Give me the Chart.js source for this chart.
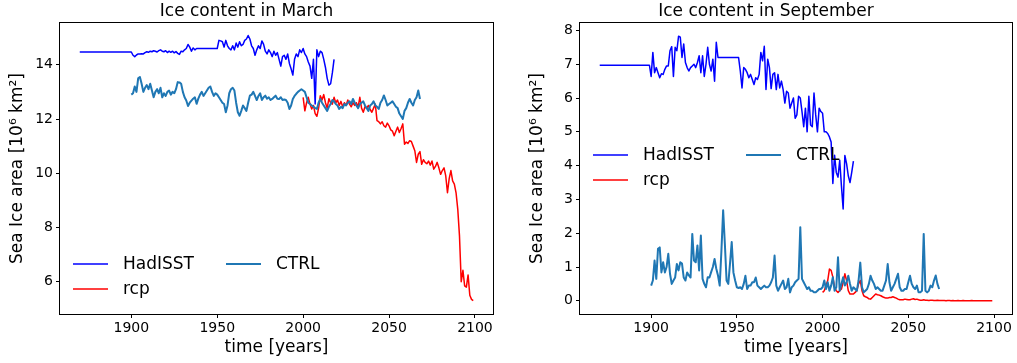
<!DOCTYPE html>
<html>
<head>
<meta charset="utf-8">
<script src="https://cdn.jsdelivr.net/npm/chart.js@4/dist/chart.umd.min.js"></script>
<style>
  html, body { margin: 0; padding: 0; background: #fff; }
  #wrap { position: relative; width: 1017px; height: 363px; }
  canvas { position: absolute; top: 0; }
  #march { left: 0; }
  #sept { left: 520px; }
</style>
</head>
<body>
<div id="wrap">
  <canvas id="march" width="500" height="363"></canvas>
  <canvas id="sept" width="497" height="363"></canvas>
</div>
<script>
/* Arctic sea ice area, March and September: HadISST obs, CTRL run, rcp scenario (annual values) */
const FONT = "'DejaVu Sans', sans-serif";

const hadStart = 1870, ctrlStart = 1900, rcpStart = 2000;
const xTicks = [1900, 1950, 2000, 2050, 2100];
const yTicksMar = [6, 8, 10, 12, 14];
const yTicksSep = [0, 1, 2, 3, 4, 5, 6, 7, 8];

const hadMar = [
  14.47, 14.47, 14.47, 14.47, 14.47, 14.47, 14.47, 14.47, 14.47, 14.47,
  14.47, 14.47, 14.47, 14.47, 14.47, 14.47, 14.47, 14.47, 14.47, 14.47,
  14.47, 14.47, 14.47, 14.47, 14.47, 14.47, 14.47, 14.47, 14.47, 14.47,
  14.47, 14.35, 14.30, 14.36, 14.40, 14.40, 14.41, 14.40, 14.45, 14.48,
  14.46, 14.50, 14.48, 14.52, 14.50, 14.47, 14.52, 14.55, 14.50, 14.48,
  14.52, 14.45, 14.50, 14.46, 14.50, 14.44, 14.49, 14.42, 14.38, 14.50,
  14.48, 14.55, 14.60, 14.75, 14.65, 14.50, 14.62, 14.55, 14.60, 14.60,
  14.60, 14.60, 14.60, 14.60, 14.60, 14.60, 14.60, 14.60, 14.60, 14.60,
  14.60, 14.90, 14.88, 14.85, 14.65, 14.90, 14.70, 14.60, 14.55, 14.70,
  14.55, 14.80, 14.65, 14.85, 14.70, 14.75, 14.90, 14.95, 15.08, 14.95,
  14.70, 14.60, 14.35, 14.55, 14.70, 14.60, 14.88, 14.75, 14.50, 14.40,
  14.55, 14.45, 14.30, 14.50, 14.35, 14.45, 14.20, 13.95, 14.30, 14.35,
  14.20, 14.40, 14.05, 13.85, 13.62, 14.20, 14.40, 14.30, 14.55, 14.45,
  14.60, 14.40, 14.30, 14.10, 13.95, 13.50, 14.20, 12.55, 14.55, 14.30,
  14.50, 14.45, 14.20, 13.90, 13.50, 13.25, 13.30, 13.70, 14.20
];
const ctrlMar = [
  12.90, 12.95, 13.20, 13.00, 13.50, 13.55, 13.30, 13.00, 13.15, 13.25,
  13.10, 13.30, 13.05, 12.80, 13.00, 13.10, 12.95, 13.15, 12.80, 12.95,
  12.85, 13.00, 13.05, 12.90, 13.00, 12.95, 13.10, 13.36, 13.35, 13.30,
  13.00, 12.80, 12.68, 12.48, 12.60, 12.68, 12.75, 12.80, 12.56, 12.75,
  12.90, 13.00, 12.85, 12.95, 13.05, 13.15, 13.20, 13.00, 12.85, 12.95,
  12.90, 12.80, 12.70, 12.60, 12.55, 12.25, 12.50, 12.95, 13.10, 13.15,
  13.05, 12.60, 12.25, 12.12, 12.30, 12.50, 12.40, 12.30, 12.60, 12.86,
  12.90, 13.00, 12.85, 12.70, 12.85, 12.95, 12.70, 12.80, 12.86, 12.75,
  12.80, 12.70, 12.74, 12.80, 12.86, 12.75, 12.74, 12.80, 12.70, 12.72,
  12.70, 12.60, 12.37, 12.50, 12.74, 12.85, 12.93, 13.00, 13.05, 13.10,
  13.05, 13.00, 12.80, 12.60, 12.55, 12.50, 12.45, 12.40, 12.37, 12.60,
  12.74, 12.60, 12.50, 12.40, 12.30, 12.45, 12.55, 12.70, 12.65, 12.55,
  12.50, 12.37, 12.45, 12.40, 12.55, 12.50, 12.60, 12.65, 12.55, 12.74,
  12.60, 12.50, 12.40, 12.55, 12.60, 12.65, 12.50, 12.40, 12.30, 12.50,
  12.55, 12.65, 12.50, 12.45, 12.37, 12.60, 12.70, 12.87, 12.70, 12.50,
  12.55, 12.60, 12.65, 12.55, 12.45, 12.40, 12.20, 12.10, 12.00, 12.30,
  12.40, 12.60, 12.74, 12.60, 12.50, 12.70, 12.80, 13.05, 12.74
];
const rcpMar = [
  12.80, 12.30, 12.60, 12.80, 12.55, 12.37, 12.50, 12.20, 12.10, 12.40,
  12.86, 12.70, 12.90, 12.60, 12.40, 12.75, 12.60, 12.55, 12.80, 12.60,
  12.70, 12.50, 12.65, 12.45, 12.60, 12.50, 12.70, 12.55, 12.45, 12.60,
  12.50, 12.60, 12.45, 12.80, 12.40, 12.25, 12.45, 12.40, 12.50, 12.35,
  12.25, 12.40, 12.55, 11.94, 11.90, 11.82, 11.90, 11.75, 11.70, 11.85,
  11.75, 11.60, 11.55, 11.38, 11.55, 11.70, 11.50, 11.65, 11.82, 11.07,
  11.15, 11.10, 11.20, 11.17, 11.00, 10.83, 10.40, 10.70, 10.80, 10.33,
  10.50, 10.40, 10.35, 10.45, 10.30, 10.45, 10.15, 10.25, 10.40, 10.20,
  9.96, 10.10, 10.20, 9.90, 9.28, 9.80, 10.10, 9.72, 9.60, 9.28,
  8.67, 7.68, 6.00, 6.42, 5.85, 5.80, 6.25, 5.50, 5.35, 5.30
];

const hadSep = [
  6.97, 6.97, 6.97, 6.97, 6.97, 6.97, 6.97, 6.97, 6.97, 6.97,
  6.97, 6.97, 6.97, 6.97, 6.97, 6.97, 6.97, 6.97, 6.97, 6.97,
  6.97, 6.97, 6.97, 6.97, 6.97, 6.97, 6.97, 6.97, 6.97, 6.97,
  6.64, 7.35, 6.75, 6.90, 6.75, 6.60, 6.72, 6.70, 6.85, 6.95,
  6.95, 7.40, 7.52, 6.64, 7.50, 7.40, 7.83, 7.80, 7.20, 7.60,
  7.05, 6.90, 6.80, 6.90, 6.95, 7.00, 6.90, 7.05, 7.25, 6.75,
  7.25, 6.64, 7.00, 7.50, 7.00, 6.80, 7.15, 6.50, 7.65, 7.20,
  7.20, 7.20, 7.20, 7.20, 7.20, 7.20, 7.20, 7.20, 7.20, 7.20,
  7.20, 7.20, 6.80, 6.30, 6.90, 6.85, 6.75, 6.60, 6.70, 6.55,
  6.40, 6.60, 6.55, 6.70, 7.35, 7.10, 7.53, 6.25, 7.15, 6.90,
  6.28, 6.70, 6.75, 6.25, 6.70, 6.30, 6.50, 6.25, 5.85, 6.20,
  6.15, 5.70, 5.85, 6.00, 5.40, 5.50, 6.05, 6.00, 5.60, 5.15,
  5.70, 5.00, 6.05, 5.20, 5.15, 6.15, 5.50, 5.00, 5.70, 5.60,
  5.55, 5.00, 5.00, 4.95, 4.85, 4.70, 3.47, 4.31, 3.80, 3.66,
  4.16, 3.40, 2.72, 4.30, 4.06, 3.70, 3.50, 3.80, 4.13
];
const ctrlSep = [
  0.45, 0.60, 1.19, 0.65, 1.54, 1.58, 0.84, 1.14, 0.84, 1.00,
  1.39, 0.80, 0.50, 0.60, 0.69, 1.09, 0.90, 1.14, 1.10, 0.69,
  0.60, 0.84, 0.75, 0.69, 1.98, 1.19, 1.14, 1.64, 0.90, 1.93,
  0.65, 0.50, 0.40, 0.70, 0.69, 0.85, 1.00, 1.24, 0.95, 0.75,
  0.45, 1.49, 2.68, 1.69, 0.60, 0.50, 1.10, 1.74, 0.84, 0.60,
  0.40, 0.38, 0.40, 0.35, 0.50, 0.74, 0.35, 0.45, 0.45, 0.55,
  0.55, 0.69, 0.45, 0.40, 0.35, 0.40, 0.45, 0.40, 0.40, 0.45,
  0.55, 0.69, 1.34, 0.45, 0.30, 0.40, 0.50, 0.60, 0.35, 0.40,
  0.65, 0.25, 0.40, 0.45, 0.55, 0.60, 0.65, 2.18, 0.65, 0.55,
  0.45, 0.35, 0.40, 0.30, 0.30, 0.25, 0.25, 0.30, 0.35, 0.35,
  0.40, 0.60, 0.35, 0.55, 0.30, 0.45, 0.70, 0.30, 0.40, 1.29,
  0.30, 0.50, 0.70, 0.45, 0.55, 0.74, 0.50, 0.30, 0.40, 0.35,
  0.30, 0.60, 1.13, 0.40, 0.25, 0.30, 0.35, 0.50, 0.74, 0.60,
  0.50, 0.35, 0.40, 0.35, 0.30, 0.30, 0.45, 0.60, 1.09, 0.55,
  0.30, 0.40, 0.50, 0.65, 0.80, 0.40, 0.30, 0.30, 0.35, 0.35,
  0.55, 0.74, 0.50, 0.40, 0.35, 0.45, 0.25, 0.25, 0.30, 1.98,
  0.30, 0.25, 0.30, 0.45, 0.40, 0.60, 0.75, 0.50, 0.35
];
const rcpSep = [
  0.25, 0.30, 0.45, 0.60, 0.94, 0.90, 0.70, 0.40, 0.30, 0.25,
  0.30, 0.35, 0.55, 0.80, 0.60, 0.30, 0.20, 0.20, 0.20, 0.25,
  0.30, 0.50, 0.60, 0.30, 0.15, 0.12, 0.10, 0.06, 0.05, 0.10,
  0.15, 0.20, 0.18, 0.17, 0.15, 0.12, 0.10, 0.08, 0.08, 0.10,
  0.10, 0.12, 0.10, 0.08, 0.05, 0.03, 0.03, 0.03, 0.05, 0.04,
  0.03, 0.03, 0.05, 0.06, 0.04, 0.05, 0.03, 0.02, 0.02, 0.03,
  0.02, 0.02, 0.01, 0.02, 0.02, 0.01, 0.01, 0.02, 0.01, 0.01,
  0.01, 0.01, 0.00, 0.01, 0.01, 0.00, 0.01, 0.00, 0.00, 0.01,
  0.00, 0.00, 0.01, 0.00, 0.00, 0.00, 0.00, 0.01, 0.00, 0.00,
  0.00, 0.00, 0.00, 0.00, 0.00, 0.00, 0.00, 0.00, 0.00, 0.00
];

const toXY = (start, arr) => arr.map((v, i) => ({ x: start + i, y: v }));

// matplotlib-ish frame on all four sides
const frame = {
  id: 'frame',
  afterDraw(chart) {
    const { ctx, chartArea: a } = chart;
    ctx.save();
    ctx.strokeStyle = '#000'; ctx.lineWidth = 1;
    ctx.strokeRect(Math.round(a.left) - 0.5, Math.round(a.top) - 0.5, Math.round(a.right - a.left) + 1, Math.round(a.bottom - a.top) + 1);
    ctx.restore();
  },
};

// legend drawn inside the axes, two columns, no box
const inLegend = {
  id: 'inLegend',
  afterDraw(chart, args, o) {
    const { ctx, chartArea: a } = chart;
    ctx.save();
    ctx.font = `17px ${FONT}`; ctx.textBaseline = 'middle'; ctx.fillStyle = '#000';
    o.items.forEach(([idx, col, row]) => {
      const ds = chart.data.datasets[idx];
      const x = a.left + o.x + col * o.colW, y = a.top + o.y + row * o.rowH;
      ctx.strokeStyle = ds.borderColor; ctx.lineWidth = ds.borderWidth;
      ctx.beginPath(); ctx.moveTo(x, y); ctx.lineTo(x + 35, y); ctx.stroke();
      ctx.fillText(ds.label, x + 50, y + 1);
    });
    ctx.restore();
  },
};

function iceChart(canvas, { title, had, ctrl, rcp, yMin, yMax, yTicks, legendY, padRight }) {
  const line = (label, data, color, width, order) => ({
    label, data, borderColor: color, backgroundColor: color, borderWidth: width,
    pointRadius: 0, tension: 0, borderJoinStyle: 'round', order,
  });
  return new Chart(canvas, {
    type: 'line',
    data: {
      datasets: [
        line('HadISST', had, '#0000ff', 1.5, 2),
        line('rcp', rcp, '#ff0000', 1.5, 1),
        line('CTRL', ctrl, '#1f77b4', 2, 0),
      ],
    },
    options: {
      responsive: false, animation: false, events: [],
      layout: { padding: { left: 0, right: padRight, top: 0, bottom: 0 } },
      plugins: {
        legend: { display: false }, tooltip: { enabled: false },
        title: { display: true, text: title, color: '#000', font: { family: FONT, size: 17, weight: 'normal' }, padding: { top: 1.5, bottom: 1.1 } },
        inLegend: { x: 13, y: legendY, colW: 153, rowH: 25, items: [[0, 0, 0], [2, 1, 0], [1, 0, 1]] },
      },
      scales: {
        x: {
          type: 'linear', min: 1858.5, max: 2110.5,
          afterBuildTicks: (s) => { s.ticks = xTicks.map((v) => ({ value: v })); },
          afterFit: (s) => { s.height = 49; },
          grid: { drawOnChartArea: false, drawTicks: true, tickLength: 4, color: '#000' },
          border: { display: false },
          ticks: { color: '#000', padding: 2, maxRotation: 0, font: { family: FONT, size: 14 }, callback: (v) => String(v) },
          title: { display: true, text: 'time [years]', color: '#000', font: { family: FONT, size: 17 }, padding: { bottom: 5 } },
        },
        y: {
          min: yMin, max: yMax,
          afterBuildTicks: (s) => { s.ticks = yTicks.map((v) => ({ value: v })); },
          afterFit: (s) => { s.width = 60; },
          grid: { drawOnChartArea: false, drawTicks: true, tickLength: 4, color: '#000' },
          border: { display: false },
          ticks: { color: '#000', padding: 3, font: { family: FONT, size: 14 }, callback: (v) => String(v) },
          title: { display: true, text: 'Sea Ice area [10⁶ km²]', color: '#000', font: { family: FONT, size: 17 }, padding: { top: 7 } },
        },
      },
    },
    plugins: [frame, inLegend],
  });
}

iceChart(document.getElementById('march'), {
  title: 'Ice content in March',
  had: toXY(hadStart, hadMar), ctrl: toXY(ctrlStart, ctrlMar), rcp: toXY(rcpStart, rcpMar),
  yMin: 4.81, yMax: 15.54, yTicks: yTicksMar, legendY: 241, padRight: 7,
});
iceChart(document.getElementById('sept'), {
  title: 'Ice content in September',
  had: toXY(hadStart, hadSep), ctrl: toXY(ctrlStart, ctrlSep), rcp: toXY(rcpStart, rcpSep),
  yMin: -0.39, yMax: 8.22, yTicks: yTicksSep, legendY: 132, padRight: 5,
});
</script>
</body>
</html>
